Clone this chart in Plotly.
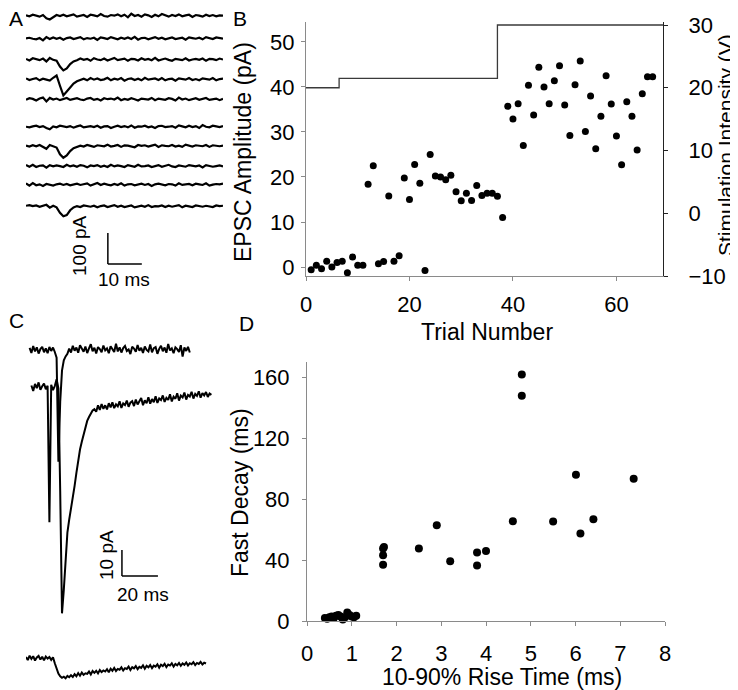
import numpy as np
import plotly.graph_objects as go

FONT = "Liberation Sans, Arial, sans-serif"
# the page puts the figure 8 px in from the top-left corner, so the figure is
# 8 px smaller and every position below is given in page pixels
OFF = 8
W, H = 738 - OFF, 690 - OFF

# ---- panel B: EPSC amplitude per trial and stimulation intensity steps
trial = list(range(1, 68))
epsc_pa = [-0.6, 0.4, -0.4, 1.3, 0, 1, 1.3, -1.3, 2.2, 0.4, 0.4, 18.4, 22.5, 0.7, 1.2,
           15.8, 1.3, 2.5, 19.8, 15, 22.8, 18.6, -0.8, 25, 20.2, 20, 19.4, 20.4, 16.7,
           14.7, 16.4, 14.8, 18.1, 15.9, 16.4, 16.4, 15.7, 11, 35.7, 32.9, 36.3, 27,
           40.4, 33.8, 44.4, 40, 36.3, 41.4, 44.7, 36, 29.2, 40.5, 45.8, 30.1, 38, 26.3,
           33.5, 42.5, 36.2, 29.1, 22.7, 36.7, 33.5, 26, 38.5, 42.3, 42.3]
stim_trial = [0, 6.4, 37.0, 69]
stim_volts = [20, 21.5, 30, 30]

# ---- panel D: rise time vs fast decay
rise_ms = [0.4, 0.45, 0.5, 0.55, 0.6, 0.65, 0.7, 0.75, 0.8, 0.85, 0.9, 0.95, 1.0, 1.05, 1.1,
           1.7, 1.7, 1.7, 1.72, 2.5, 2.9, 3.2, 3.8, 3.8, 4.0, 4.6, 4.8, 4.8, 5.5, 6.01,
           6.11, 6.4, 7.3]
decay_ms = [2, 1.5, 2.5, 3, 2, 3.5, 4, 3, 1, 2.5, 5.5, 4, 3, 2.5, 3.5,
            47.6, 43.2, 36.9, 48.5, 47.6, 62.9, 39.3, 45, 36.5, 46, 65.5, 161.8, 147.8,
            65.3, 96, 57.4, 66.8, 93.4]

# ---- panel A: ten sweeps (pA, 1 ms per sample)
sweeps_a = [
    [1, -2, 3, 0, -3, 2, -8, -12, -4, 2, -1, 3, -2, 1, 4, -3, 0, 2, -4, 3, 1, -2, 5, -1, -3, 2, 0, 4, -2, 3,
     -5, 6, -1, 2, -3, 4, 1, -4, 3, -2, 5, 0, -3, 2, -1, 4, -2, 1, 3, -4, 2, 0, -3, 3, -1, 2, -2, 1, 0],
    [0, 2, -1, -3, 1, -6, 4, -2, 3, -1, 2, -4, 1, 3, -2, 0, 4, -3, 1, -1, 2, -5, 3, 1, -2, 4, 0, -3, 2, -1,
     3, -2, 5, -4, 1, 2, -3, 0, 4, -1, 2, -3, 1, 3, -2, 0, 2, -4, 3, 1, -1, 2, -3, 4, 0, -2, 3, 1, -1],
    [2, -3, 4, 1, -2, 3, -6, 5, -1, -4, -22, -34, -28, -14, -6, -2, 3, -1, 2, -4, 4, 0, -2, 3, -3, 1, 5, -2, 0, 3,
     -4, 2, 1, -3, 4, -1, 2, -2, 5, -3, 0, 3, -1, -4, 2, 1, -2, 4, -3, 0, 2, -1, 3, -4, 2, 1, -2, 3, 0],
    [3, -2, 1, 4, -3, 2, -1, -4, 5, 12, -20, -50, -38, -24, -13, -6, -2, 2, -3, 4, -1, 3, -2, 0, 5, -3, 2, -1, 4, -4,
     1, 3, -2, 2, -3, 5, -1, 0, 3, -2, 4, -3, 1, 2, -4, 3, 0, -1, 4, -2, 1, -3, 3, 2, -1, 4, -3, 1, 2],
    [-2, 3, 1, -4, 2, 5, -7, 4, -1, 2, -3, 1, 4, -2, 0, 3, -1, -3, 2, 4, -2, 1, -4, 3, 0, 2, -1, 5, -3, 1,
     -2, 3, 0, -4, 2, 1, -1, 4, -3, 2, 0, -2, 3, 1, -4, 5, -1, 2, -3, 0, 3, -2, 1, 4, -2, 0, 2, -3, 1],
    [0, -2, 1, 3, -1, 2, -4, -8, 1, -2, 3, 0, -1, 2, -3, 1, 4, -2, 0, 2, -1, 3, -3, 1, 2, -4, 0, 3, -1, 2,
     -2, 4, -3, 1, 0, 3, -2, 1, -4, 2, 3, -1, 0, 2, -3, 4, 1, -2, 3, -1, 2, -4, 5, 0, -2, 3, 1, -1, 2],
    [1, -2, 2, -1, 3, -3, -9, 3, 0, -5, -26, -37, -30, -16, -7, -3, 1, -2, 3, 0, -3, 2, 1, -1, 4, -2, 0, 3, -3, 2,
     1, -1, -4, 3, 0, 2, -2, 1, 4, -3, 2, 0, -1, 3, -2, 1, -3, 4, 0, -2, 2, 1, -1, 3, -3, 2, 0, -1, 1],
    [3, -2, 4, -3, 1, 2, -5, 3, -1, 2, 0, -3, 4, -1, 2, -2, 3, 1, -4, 2, 0, 3, -2, 1, -3, 4, -1, 2, 0, -3,
     3, 1, -2, 4, -1, 0, 2, -3, 1, 3, -2, 0, 4, -1, -3, 2, 1, -2, 3, 0, -1, 2, -4, 3, 1, -2, 0, 2, -1],
    [4, -3, 5, -2, 1, -4, 2, 0, -3, 1, 3, -1, 2, -2, 0, 3, -1, 1, 4, -3, 2, 5, -1, 3, 0, -2, 2, -1, 4, -3,
     1, 2, -2, 0, 3, -1, 2, -4, 1, 3, 0, -2, 2, 1, -3, 4, -1, 0, 2, -2, 3, 1, -1, 4, -3, 0, 2, 1, 3],
    [2, 4, 1, 3, -1, 2, 5, -4, 2, -3, -20, -31, -27, -12, -3, 1, -2, 3, 0, -1, 2, -3, 1, 3, -2, 0, 4, -1, 2, -2,
     1, 3, -3, 0, 2, -1, 4, -2, 1, 0, 3, -2, 2, -1, 1, 4, -3, 2, 0, -2, 3, 1, -1, 2, 0, -2, 3, 1, 2],
]
sweep_offset_a = [-49, -120, -186, -248, -310, -396, -456, -519, -577, -645]

# ---- panel C: three example EPSCs (pA, 1 ms per sample)
sweeps_c = [
    [0.8, -1.2, 1.5, -0.6, 1.0, -1.4, 0.3, 1.2, -0.9, 0.6, -1.3, 1.1, -0.4, 0.9, -0.8,
     -3, -43, -20, -8, -4, -2.5, -1.5,
     0.5, -1.0, 1.6, -0.3, 0.9, -1.1, 1.8, 0.2, -0.7, 1.3, -1.2, 0.6, 2.2, -0.5, 0.8, -1.4, 1.1, 0.3,
     -0.9, 1.7, -0.2, 0.6, -1.3, 1.4, 0.1, -0.8, 2.4, -0.6, 1.0, -1.0, 0.7, 1.5, -0.4, 0.2, -1.6, 1.2,
     0.5, -0.7, 1.9, -0.3, 0.8, -1.2, 1.3, 0.0, -0.6, 2.1, -0.9, 0.7, 1.1, -1.5, 0.4, 1.6, -0.5, 0.9,
     -1.1, 2.3, -0.2, 0.6, -1.3, 1.0, 0.3, -0.8, 1.8, -2.6, 0.9, -0.4, 1.2, -1.0],
    [0.6, -1.5, 1.2, -0.4, 1.8, -1.0, 0.3, 1.4, -0.8, 0.5, -52, 0.9, -1.2, 0.4, 3.0, -0.5, -40, -87, -78, -66,
     -56, -51, -47, -43, -38, -33, -28, -24, -21, -18, -15, -13, -11.5, -10, -9, -8.5, -9.5, -7, -8.8, -6.5, -8.4,
     -7.0, -8.6, -6.2, -7.8, -5.9, -8.1, -6.6, -7.4, -5.5, -8.0, -6.3, -6.9, -5.2, -7.6, -6.0, -5.4, -7.3,
     -4.8, -6.7, -5.6, -4.2, -7.0, -5.1, -6.2, -3.9, -6.4, -4.6, -5.8, -3.5, -6.1, -4.4, -5.0, -3.2, -5.7,
     -4.1, -4.9, -2.8, -5.5, -3.7, -4.5, -2.4, -5.2, -3.3, -4.0, -2.1, -4.8, -3.0, -3.6, -1.8, -4.4, -2.6,
     -3.4, -1.6, -4.1, -2.3, -3.2, -1.9, -3.8, -2.5, -3.0],
    [0.4, -0.8, 0.9, -0.3, 0.7, -1.0, 0.2, 0.8, -0.6, 0.5, -0.9, 0.6, -0.2, 0.4, -0.7, 0.3, -2.0, -4.5,
     -6.0, -7.0, -7.6, -7.2, -7.8, -6.9, -7.4, -6.6, -7.3, -6.2, -7.0, -5.8, -6.8, -5.6, -6.5, -5.9, -6.1,
     -5.2, -6.3, -5.0, -5.7, -4.9, -5.9, -4.6, -5.4, -4.8, -5.2, -4.3, -5.5, -4.1, -4.9, -3.8, -5.0, -4.2,
     -4.5, -3.6, -4.8, -3.9, -4.2, -3.3, -4.6, -3.5, -4.0, -3.1, -4.3, -3.4, -3.8, -2.8, -4.1, -3.0, -3.6,
     -2.7, -3.9, -2.9, -3.3, -2.4, -3.7, -2.6, -3.1, -2.2, -3.5, -2.5, -2.9, -2.0, -3.3, -2.3, -2.8, -1.9,
     -3.0, -2.1, -2.6, -1.7, -2.9, -2.0, -2.4, -1.6, -2.7, -1.9, -2.3, -1.5, -2.5, -1.8, -2.1],
]
sweep_start_c = [2, 3, 0]
sweep_offset_c = [-11.5, -25.8, -130]


def px_x(p):
    return (p - OFF) / W


def px_y(p):
    return 1 - (p - OFF) / H


fig = go.Figure()

# panel B
fig.add_trace(go.Scatter(x=trial, y=epsc_pa, mode="markers", xaxis="x", yaxis="y",
                         marker=dict(color="black", size=7), showlegend=False, cliponaxis=False))
fig.add_trace(go.Scatter(x=stim_trial, y=stim_volts, mode="lines", line_shape="hv", xaxis="x", yaxis="y2",
                         line=dict(color="#3a3a3a", width=1.3), showlegend=False, cliponaxis=False))

# panel D
fig.add_trace(go.Scatter(x=rise_ms, y=decay_ms, mode="markers", xaxis="x3", yaxis="y3",
                         marker=dict(color="black", size=8), showlegend=False, cliponaxis=False))

# panel A traces
for vals, off in zip(sweeps_a, sweep_offset_a):
    t = np.arange(len(vals))
    fig.add_trace(go.Scatter(x=t, y=np.array(vals) + off, mode="lines", xaxis="x4", yaxis="y4",
                             line=dict(color="black", width=2.2), showlegend=False))

# panel C traces
for vals, t0, off in zip(sweeps_c, sweep_start_c, sweep_offset_c):
    t = t0 + np.arange(len(vals))
    fig.add_trace(go.Scatter(x=t, y=np.array(vals) + off, mode="lines", xaxis="x5", yaxis="y5",
                             line=dict(color="black", width=2), showlegend=False))

tickfont = dict(family=FONT, size=22, color="black")
grey = "#8a8a8a"
common = dict(showgrid=False, zeroline=False, ticks="outside", ticklen=4, tickfont=tickfont,
              showline=True, linewidth=1, automargin=False)

hidden = dict(visible=False, showgrid=False, zeroline=False, showticklabels=False,
              automargin=False, fixedrange=True)

fig.update_layout(
    width=W, height=H, margin=dict(l=0, r=0, t=0, b=0, autoexpand=False),
    plot_bgcolor="white", paper_bgcolor="white",
    font=dict(family=FONT, color="black"),
    xaxis=dict(domain=[px_x(306), px_x(663)], range=[0, 69], tickvals=[0, 20, 40, 60],
               linecolor=grey, tickcolor=grey, ticklabelstandoff=5, anchor="y", **common),
    yaxis=dict(domain=[px_y(276), px_y(22)], range=[-2, 54.44], tickvals=[0, 10, 20, 30, 40, 50],
               linecolor=grey, tickcolor=grey, ticklabelstandoff=2, anchor="x", **common),
    yaxis2=dict(overlaying="y", side="right", anchor="x", range=[-10, 30.48],
                tickvals=[-10, 0, 10, 20, 30], linecolor="#222", tickcolor="#222",
                ticklabelstandoff=16, **common),
    xaxis3=dict(domain=[px_x(307), px_x(665)], range=[0, 8], dtick=1, anchor="y3",
                linecolor=grey, tickcolor=grey, ticklabelstandoff=9, **common),
    yaxis3=dict(domain=[px_y(621), px_y(362)], range=[0, 170], tickvals=[0, 40, 80, 120, 160],
                anchor="x3", linecolor=grey, tickcolor=grey, ticklabelstandoff=8, **common),
    xaxis4=dict(domain=[px_x(26), px_x(223)], range=[0, 58], anchor="y4", **hidden),
    yaxis4=dict(domain=[px_y(400), px_y(OFF)], range=[-1250, -OFF / 0.32], anchor="x4", **hidden),
    xaxis5=dict(domain=[px_x(26), px_x(215)], range=[0, 105], anchor="y5", **hidden),
    yaxis5=dict(domain=[px_y(690), px_y(320)], range=[-142.3, 0], anchor="x5", **hidden),
)

# scale bars
bar = dict(color="black", width=1.5)
fig.add_shape(type="line", xref="x4", yref="y4", x0=24.1, x1=24.1, y0=-728, y1=-825, line=bar)
fig.add_shape(type="line", xref="x4", yref="y4", x0=24.1, x1=34.1, y0=-825, y1=-825, line=bar)
fig.add_shape(type="line", xref="x5", yref="y5", x0=53.3, x1=53.3, y0=-88.5, y1=-98.5, line=bar)
fig.add_shape(type="line", xref="x5", yref="y5", x0=53.3, x1=73.3, y0=-98.5, y1=-98.5, line=bar)


def label(text, x, y, size=22, angle=0):
    fig.add_annotation(text=text, x=px_x(x), y=px_y(y), xref="paper", yref="paper",
                       showarrow=False, textangle=angle, xanchor="center", yanchor="middle",
                       font=dict(family=FONT, size=size, color="black"))


label("A", 16, 19, size=21)
label("B", 240, 19, size=21)
label("C", 16, 320, size=21)
label("D", 246, 323, size=21)
label("100 pA", 79, 246, size=19, angle=-90)
label("10 ms", 124, 279, size=19)
label("10 pA", 106, 555, size=19, angle=-90)
label("20 ms", 143, 594, size=19)
label("Trial Number", 487, 332, size=23)
label("EPSC Amplitude (pA)", 243, 152, size=23, angle=-90)
label("Stimulation Intensity (V)", 725, 145, size=21, angle=-90)
label("10-90% Rise Time (ms)", 502, 677, size=23)
label("Fast Decay (ms)", 240, 493, size=23, angle=-90)

fig.write_html("out.html")
